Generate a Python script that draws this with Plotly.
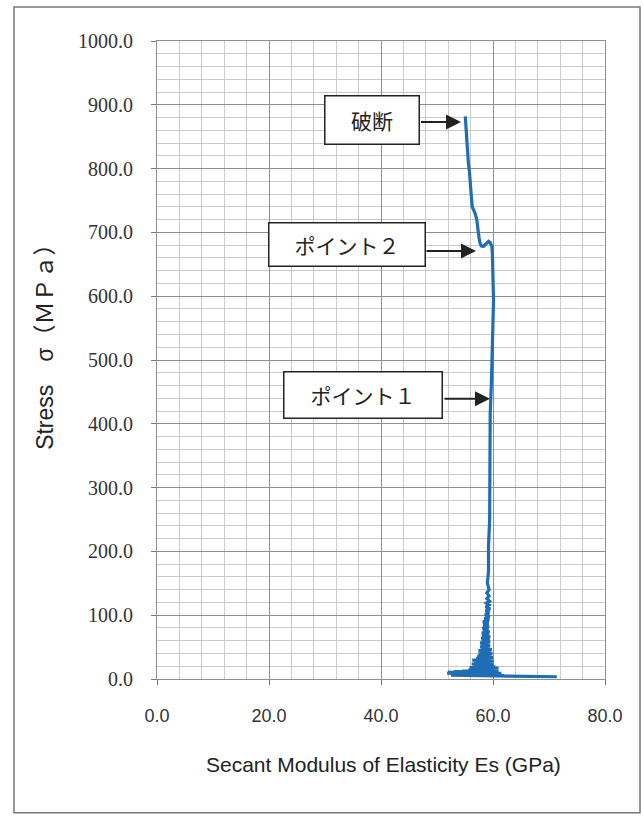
import plotly.graph_objects as go

# ---- data ----
es_gpa = [71.4, 60.0, 70.8, 55.0, 66.0, 52.5, 62.0, 51.8, 60.5, 52.0, 61.5, 53.0,
          60.8, 54.5, 61.0, 55.6, 60.6, 56.0, 61.0, 55.8, 60.4, 56.4, 60.1, 56.2,
          59.9, 56.6, 60.1, 56.3, 59.8, 57.0, 60.0, 57.2, 59.7, 57.4, 59.9, 57.5,
          59.6, 57.4, 59.8, 57.8, 59.4, 57.7, 59.5, 57.9, 59.3, 57.7, 59.5, 58.0,
          59.4, 57.9, 59.5, 58.1, 59.3, 58.0, 59.4, 58.2, 59.2, 58.1, 59.3, 58.3,
          59.2, 58.2, 59.3, 58.5, 59.4, 58.6, 59.3, 58.7, 59.5, 58.7, 59.3, 58.8,
          59.4, 58.9, 59.3, 58.9, 59.3, 59.0,
          59.2, 59.2, 59.4, 59.4, 59.5, 59.5, 59.5, 59.7, 59.8, 59.9, 60.1,
          60.0, 60.0, 59.9, 59.8, 59.5, 59.2, 58.8, 58.3, 57.9, 57.7, 57.5, 57.3,
          57.1, 56.8, 56.3, 56.1, 55.95, 55.8, 55.6, 55.5, 55.35, 55.2, 55.05]
stress_mpa = [3.5, 4.5, 4.0, 5.0, 4.2, 6.0, 5.5, 9.0, 7.5, 10.5, 9.0, 11.5,
              10.5, 12.5, 13.0, 14.0, 15.0, 16.0, 17.0, 18.0, 19.0, 20.5, 22.0, 23.5,
              25.0, 26.5, 28.0, 29.5, 31.0, 32.5, 34.0, 35.5, 37.0, 38.5, 40.0, 41.5,
              43.0, 44.5, 46.0, 47.5, 49.0, 50.5, 52.0, 53.5, 55.0, 56.5, 58.0, 60.0,
              62.0, 64.0, 66.0, 68.0, 70.0, 72.0, 74.0, 76.0, 78.0, 80.0, 82.0, 84.5,
              87.0, 89.5, 92.0, 95.0, 98.0, 101.0, 104.0, 107.0, 110.0, 113.0, 116.0, 119.0,
              122.0, 126.0, 130.0, 135.0, 140.0, 150.0,
              170, 208, 250, 281, 313, 360, 417, 460, 500, 550, 594,
              626, 646, 665, 678, 684, 686, 683, 678, 679, 683, 692, 705,
              720, 730, 740, 760, 782, 795, 809, 825, 845, 865, 882]

x_ticks = [0, 20, 40, 60, 80]
y_ticks = [0, 100, 200, 300, 400, 500, 600, 700, 800, 900, 1000]

labels = ["破断", "ポイント２", "ポイント１"]

# ---- layout geometry helpers (pixel -> axis units) ----
L, R_PX, T, B = 157, 605, 41, 679.3
def px2x(px):
    return (px - L) / (R_PX - L) * 80
def py2y(py):
    return (B - py) / (B - T) * 1000

fig = go.Figure()
fig.add_trace(go.Scatter(x=es_gpa, y=stress_mpa, mode="lines",
                         line=dict(color="#1f6db5", width=3.2),
                         showlegend=False, hoverinfo="skip"))

major = "#8f8f8f"
minor = "#c9c9c9"
fig.update_xaxes(range=[0, 80], tickvals=x_ticks, tickformat=".1f",
                 showgrid=True, gridcolor=major, gridwidth=1,
                 minor=dict(dtick=4, showgrid=True, gridcolor=minor, gridwidth=1),
                 showline=True, linecolor=major, linewidth=1, mirror=True,
                 ticks="outside", ticklen=5, tickcolor="#777",
                 ticklabelstandoff=15,
                 tickfont=dict(family="Liberation Sans", size=18, color="#333"),
                 zeroline=False)
fig.update_yaxes(range=[0, 1000], tickvals=y_ticks, tickformat=".1f",
                 showgrid=True, gridcolor=major, gridwidth=1,
                 minor=dict(dtick=20, showgrid=True, gridcolor=minor, gridwidth=1),
                 showline=True, linecolor=major, linewidth=1, mirror=True,
                 ticks="outside", ticklen=5, tickcolor="#777",
                 ticklabelstandoff=14,
                 tickfont=dict(family="Liberation Serif", size=20, color="#333"),
                 zeroline=False)

annotations = []
# labelled boxes: (label, centre px x, centre px y, width, height)
boxes = [(labels[0], 371.5, 120.5, 93, 47),
         (labels[1], 346.5, 245, 155, 42),
         (labels[2], 363, 395, 157, 45)]
for text, cx, cy, w, h in boxes:
    annotations.append(dict(x=px2x(cx), y=py2y(cy), xref="x", yref="y",
                            text=text, showarrow=False, width=w, height=h,
                            bgcolor="white", bordercolor="#222", borderwidth=1.5,
                            borderpad=0, align="center", valign="middle",
                            font=dict(family="Noto Sans CJK JP", size=21, color="#222")))
# arrows: (start px x, end px x, px y)
arrows = [(419.5, 461, 122), (425, 476, 251), (443, 490, 399)]
for x0, x1, yy in arrows:
    annotations.append(dict(x=px2x(x1), y=py2y(yy), ax=px2x(x0), ay=py2y(yy),
                            xref="x", yref="y", axref="x", ayref="y",
                            text="", showarrow=True, arrowhead=2, arrowsize=1.5,
                            arrowwidth=2, arrowcolor="#222"))

# axis titles
annotations.append(dict(x=(383 - L) / (R_PX - L), y=(B - 765) / (B - T),
                        xref="paper", yref="paper", showarrow=False,
                        text="Secant Modulus of Elasticity Es (GPa)",
                        xanchor="center", yanchor="middle",
                        font=dict(family="Liberation Sans, Noto Sans CJK JP", size=21, color="#222")))
annotations.append(dict(x=(45 - L) / (R_PX - L), y=(B - 342) / (B - T),
                        xref="paper", yref="paper", showarrow=False,
                        text="Stress　σ（ＭＰａ）", textangle=-90,
                        xanchor="center", yanchor="middle",
                        font=dict(family="Liberation Sans, Noto Sans CJK JP", size=23, color="#222")))

# outer frame
frame = dict(type="rect", xref="paper", yref="paper",
             x0=(14 - L) / (R_PX - L), x1=(640 - L) / (R_PX - L),
             y0=(B - 813) / (B - T), y1=(B - 7) / (B - T),
             line=dict(color="#777", width=1.5), fillcolor="rgba(0,0,0,0)", layer="below")

fig.update_layout(width=643, height=818,
                  margin=dict(l=L, r=643 - R_PX, t=T, b=818 - B),
                  paper_bgcolor="white", plot_bgcolor="white",
                  annotations=annotations, shapes=[frame])

fig.write_html("out.html", config={"displayModeBar": False},
               post_script="document.body.style.margin='0';document.body.style.overflow='hidden';")
